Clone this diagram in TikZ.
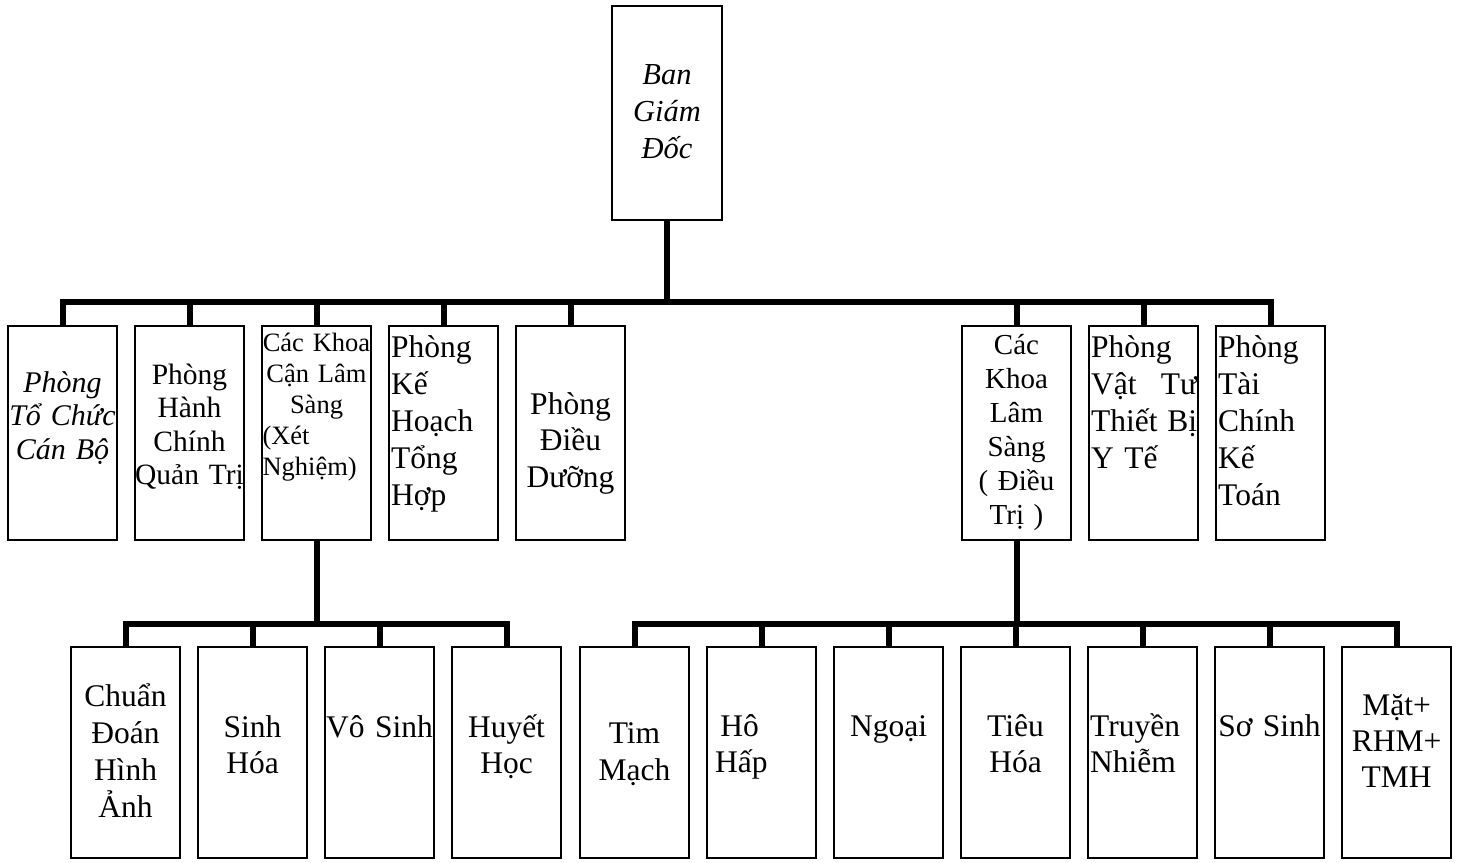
\documentclass[tikz,border=0pt]{standalone}
\usepackage{fontspec}
\setmainfont{Liberation Serif}

\tikzset{
  unit/.style={draw,line width=1.3pt,minimum width=109pt,minimum height=214pt,inner sep=0pt},
  leaf/.style={unit,minimum height=211pt},
  lbl/.style={anchor=base,inner sep=0pt,text width=116pt,align=center,
    font=\fontsize{31.5}{37}\selectfont},
  lblL/.style={lbl,anchor=base west,align=left},
  link/.style={line width=6pt},
}

\begin{document}
\begin{tikzpicture}[x=1pt,y=-1pt]
  \useasboundingbox (0,0) rectangle (1461,862);
  % top
  \node[unit,minimum width=110pt] (bgd) at (667,113) {};
  \node[lbl,font=\itshape\fontsize{30.5}{37}\selectfont] (bgdT) at (667,84) {Ban\\Giám\\Đốc};
  % middle row
  \node[unit] (pTCCB) at (62.5,433) {};
  \node[unit] (pHCQT) at (189.5,433) {};
  \node[unit] (kCLS) at (316.5,433) {};
  \node[unit] (pKHTH) at (443.5,433) {};
  \node[unit] (pDD) at (570.5,433) {};
  \node[unit] (kLS) at (1016.5,433) {};
  \node[unit] (pVTTB) at (1143.5,433) {};
  \node[unit] (pTCKT) at (1270.5,433) {};
  \node[lbl,font=\itshape\fontsize{30}{33.5}\selectfont] (pTCCBt) at (62.5,392) {Phòng\\Tổ Chức\\Cán Bộ};
  \node[lbl,font=\fontsize{29.5}{33.5}\selectfont] (pHCQTt) at (189.5,384) {Phòng\\Hành\\Chính\\Quản Trị};
  \node[lbl,text width=108pt,font=\fontsize{26.5}{31}\selectfont] (kCLSt) at (316.5,351)
    {Các Khoa\\Cận Lâm\\Sàng\\(Xét\hfill\null\\Nghiệm)\hfill\null};
  \node[lblL] (pKHTHt) at (391,357) {Phòng\\Kế\\Hoạch\\Tổng\\Hợp};
  \node[lbl,font=\fontsize{31.5}{36.5}\selectfont] (pDDt) at (570.5,414) {Phòng\\Điều\\Dưỡng};
  \node[lbl,font=\fontsize{29}{34}\selectfont] (kLSt) at (1016.5,354) {Các\\Khoa\\Lâm\\Sàng\\( Điều\\Trị )};
  \node[lblL] (pVTTBt) at (1091,357)
    {Phòng\\\makebox[106pt]{Vật\hfill Tư}\\\makebox[106pt]{Thiết\hfill Bị}\\Y Tế};
  \node[lblL] (pTCKTt) at (1218,357) {Phòng\\Tài\\Chính\\Kế\\Toán};
  % bottom row
  \node[leaf] (cdha) at (125.5,752.5) {};
  \node[leaf] (sinhhoa) at (252.5,752.5) {};
  \node[leaf] (vosinh) at (379.5,752.5) {};
  \node[leaf] (huyethoc) at (506.5,752.5) {};
  \node[leaf] (timmach) at (634.5,752.5) {};
  \node[leaf] (hohap) at (761.5,752.5) {};
  \node[leaf] (ngoai) at (888.5,752.5) {};
  \node[leaf] (tieuhoa) at (1015.5,752.5) {};
  \node[leaf] (truyennhiem) at (1142.5,752.5) {};
  \node[leaf] (sosinh) at (1269.5,752.5) {};
  \node[leaf] (mat) at (1396.5,752.5) {};
  \node[lbl] (cdhat) at (125.5,706) {Chuẩn\\Đoán\\Hình\\Ảnh};
  \node[lbl,font=\fontsize{31.5}{36}\selectfont] (sinhhoat) at (252.5,737) {Sinh\\Hóa};
  \node[lbl] (vosinht) at (379.5,737) {Vô Sinh};
  \node[lbl,font=\fontsize{31.5}{36}\selectfont] (huyethoct) at (506.5,737) {Huyết\\Học};
  \node[lbl] (timmacht) at (634.5,743) {Tim\\Mạch};
  \node[lblL,font=\fontsize{31.5}{36}\selectfont] (hohapt) at (715,736) {\,Hô\\Hấp};
  \node[lbl] (ngoait) at (888.5,736) {Ngoại};
  \node[lbl,font=\fontsize{31.5}{36}\selectfont] (tieuhoat) at (1015.5,736) {Tiêu\\Hóa};
  \node[lblL,font=\fontsize{31.5}{36}\selectfont] (truyennhiemt) at (1090,736) {Truyền\\Nhiễm};
  \node[lbl] (sosinht) at (1269.5,736) {Sơ Sinh};
  \node[lbl,font=\fontsize{31.5}{36}\selectfont] (matt) at (1396.5,715) {Mặt+\\RHM+\\TMH};
  % connectors
  \coordinate (busA) at (667,302);
  \draw[link] (bgd.south) -- (busA);
  \draw[link] (pTCCB.north) |- (busA) -| (pTCKT.north);
  \foreach \n in {pHCQT,kCLS,pKHTH,pDD,kLS,pVTTB}
    \draw[link] (\n.north) -- (\n.north |- busA);
  \coordinate (busB) at (316.5,624);
  \draw[link] (kCLS.south) -- (busB);
  \draw[link] (cdha.north) |- (busB) -| (huyethoc.north);
  \foreach \n in {sinhhoa,vosinh}
    \draw[link] (\n.north) -- (\n.north |- busB);
  \coordinate (busC) at (1016.5,624);
  \draw[link] (kLS.south) -- (busC);
  \draw[link] (timmach.north) |- (busC) -| (mat.north);
  \foreach \n in {hohap,ngoai,tieuhoa,truyennhiem,sosinh}
    \draw[link] (\n.north) -- (\n.north |- busC);
\end{tikzpicture}
\end{document}
